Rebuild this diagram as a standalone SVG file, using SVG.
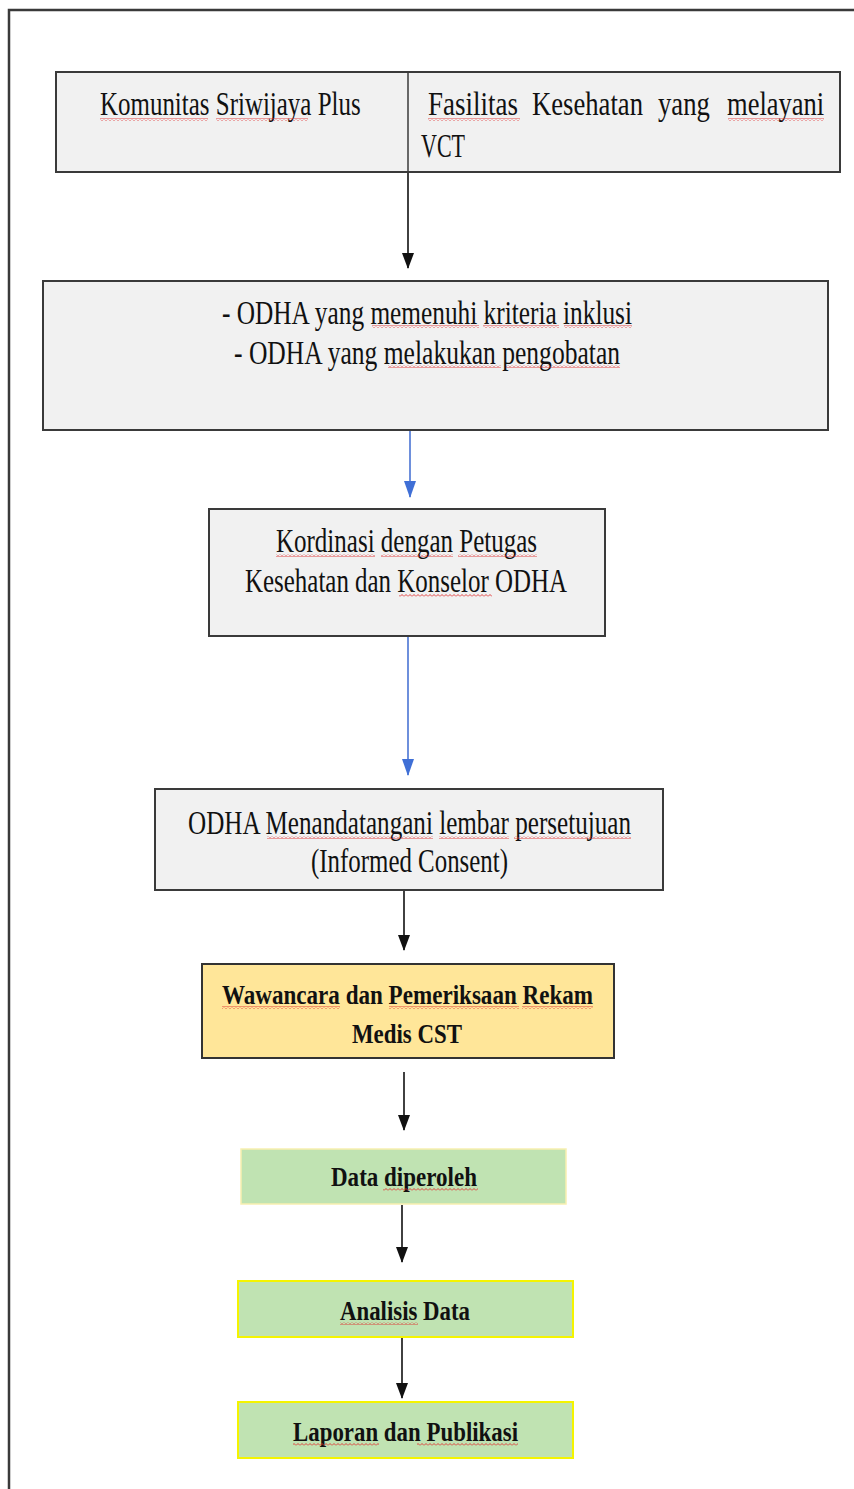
<svg xmlns="http://www.w3.org/2000/svg" width="854" height="1489" viewBox="0 0 854 1489">
<style>
.box{fill:#f1f1f1;stroke:#3a3a3a;stroke-width:2}
.t{font-family:"Liberation Serif","Times New Roman",serif;font-size:33px;fill:#111}
.b{font-family:"Liberation Serif","Times New Roman",serif;font-size:28px;font-weight:bold;fill:#111}
.ln{stroke:#111;stroke-width:1.6;fill:none}
.bl{stroke:#4a74d4;stroke-width:1.6;fill:none}
.sq{fill:url(#sq)}
</style>
<defs>
<pattern id="sq" patternUnits="userSpaceOnUse" width="4" height="3">
<path d="M0,2.5 L2,0.5 L4,2.5" stroke="#e03030" stroke-width="0.9" fill="none"/>
</pattern>
<marker id="ab" markerUnits="userSpaceOnUse" markerWidth="16" markerHeight="12" refX="15" refY="6" orient="auto" viewBox="0 0 16 12">
<path d="M0,0 L16,6 L0,12 Z" fill="#111"/>
</marker>
<marker id="abl" markerUnits="userSpaceOnUse" markerWidth="17" markerHeight="12" refX="16" refY="6" orient="auto" viewBox="0 0 17 12">
<path d="M0,0 L17,6 L0,12 Z" fill="#3f6fd6"/>
</marker>
</defs>
<rect width="854" height="1489" fill="#fff"/>
<path d="M9,1489 V10 H854" stroke="#3a3a3a" stroke-width="2.5" fill="none"/>

<g id="connectors">
<line class="ln" x1="408" y1="172" x2="408" y2="268" marker-end="url(#ab)"/>
<line class="bl" x1="410" y1="431" x2="410" y2="497" marker-end="url(#abl)"/>
<line class="bl" x1="408" y1="637" x2="408" y2="775" marker-end="url(#abl)"/>
<line class="ln" x1="404" y1="891" x2="404" y2="950" marker-end="url(#ab)"/>
<line class="ln" x1="404" y1="1072" x2="404" y2="1130" marker-end="url(#ab)"/>
<line class="ln" x1="402" y1="1205" x2="402" y2="1262" marker-end="url(#ab)"/>
<line class="ln" x1="402" y1="1338" x2="402" y2="1398" marker-end="url(#ab)"/>
</g>

<g id="node-top">
<rect class="box" x="56" y="72" width="784" height="100"/>
<line x1="408" y1="72" x2="408" y2="172" stroke="#3a3a3a" stroke-width="1.5"/>
<text class="t" transform="translate(100 115) scale(0.76 1)" textLength="343" lengthAdjust="spacingAndGlyphs">Komunitas Sriwijaya Plus</text>
<text class="t" transform="translate(428 115) scale(0.81 1)" textLength="111" lengthAdjust="spacingAndGlyphs">Fasilitas</text>
<text class="t" transform="translate(532 115) scale(0.81 1)" textLength="137" lengthAdjust="spacingAndGlyphs">Kesehatan</text>
<text class="t" transform="translate(658 115) scale(0.81 1)" textLength="64" lengthAdjust="spacingAndGlyphs">yang</text>
<text class="t" transform="translate(727 115) scale(0.81 1)" textLength="120" lengthAdjust="spacingAndGlyphs">melayani</text>
<text class="t" x="421" y="157" textLength="44" lengthAdjust="spacingAndGlyphs">VCT</text>
<rect class="sq" x="100" y="118" width="108" height="3"/>
<rect class="sq" x="216" y="118" width="92" height="3"/>
<rect class="sq" x="428" y="118" width="92" height="3"/>
<rect class="sq" x="728" y="118" width="96" height="3"/>
</g>

<g id="node-odha">
<rect class="box" x="43" y="281" width="785" height="149"/>
<text class="t" x="222" y="324" textLength="410" lengthAdjust="spacingAndGlyphs">- ODHA yang memenuhi kriteria inklusi</text>
<text class="t" x="234" y="364" textLength="386" lengthAdjust="spacingAndGlyphs">-  ODHA yang melakukan pengobatan</text>
<rect class="sq" x="372" y="325" width="107" height="3"/>
<rect class="sq" x="483" y="325" width="76" height="3"/>
<rect class="sq" x="564" y="325" width="68" height="3"/>
<rect class="sq" x="388" y="365" width="113" height="3"/>
<rect class="sq" x="506" y="365" width="114" height="3"/>
</g>

<g id="node-kordinasi">
<rect class="box" x="209" y="509" width="396" height="127"/>
<text class="t" x="276" y="552" textLength="261" lengthAdjust="spacingAndGlyphs">Kordinasi dengan Petugas</text>
<text class="t" x="245" y="592" textLength="322" lengthAdjust="spacingAndGlyphs">Kesehatan dan Konselor ODHA</text>
<rect class="sq" x="276" y="554" width="99" height="3"/>
<rect class="sq" x="381" y="554" width="72" height="3"/>
<rect class="sq" x="458" y="554" width="79" height="3"/>
<rect class="sq" x="399" y="594" width="93" height="3"/>
</g>

<g id="node-consent">
<rect class="box" x="155" y="789" width="508" height="101"/>
<text class="t" x="188" y="834" textLength="443" lengthAdjust="spacingAndGlyphs">ODHA Menandatangani lembar persetujuan</text>
<text class="t" x="311" y="872" textLength="197" lengthAdjust="spacingAndGlyphs">(Informed Consent)</text>
<rect class="sq" x="267" y="836" width="166" height="3"/>
<rect class="sq" x="439" y="836" width="70" height="3"/>
<rect class="sq" x="514" y="836" width="117" height="3"/>
</g>

<g id="node-wawancara">
<rect x="202" y="964" width="412" height="94" fill="#ffe699" stroke="#333" stroke-width="2"/>
<text class="b" x="222" y="1004" textLength="371" lengthAdjust="spacingAndGlyphs">Wawancara dan Pemeriksaan Rekam</text>
<text class="b" x="352" y="1043" textLength="110" lengthAdjust="spacingAndGlyphs">Medis CST</text>
<rect class="sq" x="222" y="1006" width="118" height="3"/>
<rect class="sq" x="389" y="1006" width="130" height="3"/>
<rect class="sq" x="522" y="1006" width="71" height="3"/>
</g>

<g id="node-data">
<rect x="241" y="1149" width="325" height="55" fill="#c0e3b2" stroke="#f8efb0" stroke-width="1.5"/>
<text class="b" x="331" y="1186" textLength="146" lengthAdjust="spacingAndGlyphs">Data diperoleh</text>
<rect class="sq" x="383" y="1188" width="95" height="3"/>
</g>

<g id="node-analisis">
<rect x="238" y="1281" width="335" height="56" fill="#c0e3b2" stroke="#f4f400" stroke-width="2"/>
<text class="b" x="340" y="1320" textLength="130" lengthAdjust="spacingAndGlyphs">Analisis Data</text>
<rect class="sq" x="340" y="1322" width="78" height="3"/>
</g>

<g id="node-laporan">
<rect x="238" y="1402" width="335" height="56" fill="#c0e3b2" stroke="#f4f400" stroke-width="2"/>
<text class="b" x="293" y="1441" textLength="225" lengthAdjust="spacingAndGlyphs">Laporan dan Publikasi</text>
<rect class="sq" x="293" y="1443" width="86" height="3"/>
<rect class="sq" x="417" y="1443" width="101" height="3"/>
</g>
</svg>
